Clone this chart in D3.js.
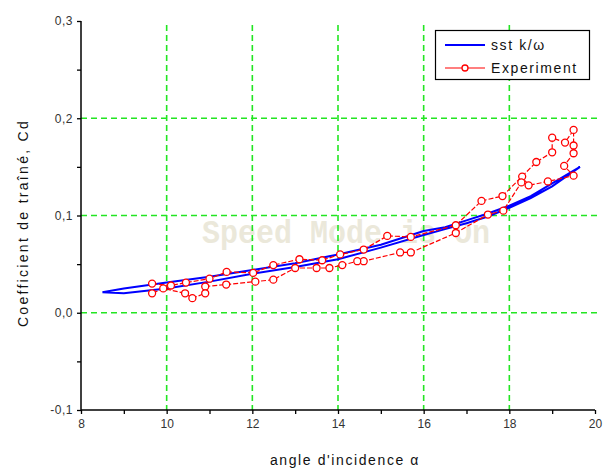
<!DOCTYPE html>
<html>
<head>
<meta charset="utf-8">
<script src="https://cdn.jsdelivr.net/npm/d3@7"></script>
<style>
html,body{margin:0;padding:0;background:#fff;}
svg{display:block;}
</style>
</head>
<body>
<svg id="chart" width="609" height="472"></svg>
<script>
// ---- data ----
const xTicks = [8, 10, 12, 14, 16, 18, 20];
const yTicks = [-0.1, 0.0, 0.1, 0.2, 0.3];
const yTickLabels = ["-0,1", "0,0", "0,1", "0,2", "0,3"];
const xGrid = [10, 12, 14, 16, 18];
const yGrid = [0.0, 0.1, 0.2];

// sst k/ω : loop (upper branch going up, lower branch coming back)
const sstAlpha = [8.5, 9.0, 10, 11, 12, 13, 14, 15, 16, 16.5, 17, 17.5, 18, 18.5, 19, 19.65,
                  19, 18.5, 18, 17.5, 17, 16.5, 16, 15, 14, 13, 12, 11, 10, 9.0, 8.5];
const sstCd    = [0.021, 0.025, 0.031, 0.037, 0.044, 0.051, 0.060, 0.070, 0.084, 0.088, 0.095, 0.102, 0.110, 0.120, 0.133, 0.150,
                  0.130, 0.118, 0.108, 0.099, 0.092, 0.086, 0.080, 0.067, 0.055, 0.047, 0.040, 0.032, 0.025, 0.020, 0.021];

// Experiment
const expAlpha = [9.66, 10.1, 10.45, 11.0, 11.4, 12.02, 12.49, 13.1, 13.63, 14.05, 14.6, 15.15, 15.7, 16.75, 17.35, 17.84, 18.63, 19.0, 19.0, 19.3, 19.5, 19.5, 19.5,
                  19.28, 19.5, 18.9, 18.45, 18.3, 18.28, 17.86, 17.5, 16.75, 15.7, 15.45, 14.6, 14.45, 14.1, 13.8, 13.5, 13.0, 12.49, 12.07, 11.39, 10.9, 10.9, 10.6, 10.43, 9.92, 9.66];
const expCd    = [0.030, 0.028, 0.031, 0.035, 0.042, 0.041, 0.049, 0.055, 0.054, 0.060, 0.065, 0.079, 0.078, 0.090, 0.115, 0.120, 0.155, 0.165, 0.180, 0.175, 0.188, 0.172, 0.164,
                  0.151, 0.141, 0.135, 0.131, 0.140, 0.134, 0.105, 0.101, 0.082, 0.062, 0.062, 0.053, 0.053, 0.049, 0.046, 0.046, 0.046, 0.034, 0.032, 0.029, 0.027, 0.020, 0.015, 0.020, 0.025, 0.020];

const legendLabels = ["sst k/\u03c9", "Experiment"];

// ---- drawing ----
const svg = d3.select("#chart");
const x = d3.scaleLinear().domain([8, 20]).range([81, 595]);
const y = d3.scaleLinear().domain([-0.1, 0.3]).range([410, 21]);
const green = "#22e622";
const font = "Liberation Sans, Arial, sans-serif";

// watermark
svg.append("text")
  .attr("x", 202).attr("y", 243)
  .attr("font-family", "Liberation Mono, monospace")
  .attr("font-weight", "bold")
  .attr("font-size", 33)
  .attr("textLength", 288).attr("lengthAdjust", "spacingAndGlyphs")
  .attr("fill", "#ebe8da")
  .text("Speed Mode is On");

// grid
svg.append("g").selectAll("line").data(xGrid).join("line")
  .attr("x1", d => x(d)).attr("x2", d => x(d))
  .attr("y1", 25).attr("y2", 410)
  .attr("stroke", green).attr("stroke-width", 1.6).attr("stroke-dasharray", "6,4");
svg.append("g").selectAll("line").data(yGrid).join("line")
  .attr("x1", 81).attr("x2", 601)
  .attr("y1", d => y(d)).attr("y2", d => y(d))
  .attr("stroke", green).attr("stroke-width", 1.6).attr("stroke-dasharray", "6,4");

// axes
const xAxis = d3.axisBottom(x).tickValues(d3.range(8, 20.01, 1)).tickSize(4)
  .tickFormat(d => xTicks.includes(d) ? d : "");
const gx = svg.append("g").attr("transform", "translate(0,410)").call(xAxis);
gx.select(".domain").attr("d", "M81,0H595").attr("stroke-width", 1.5);
gx.selectAll(".tick line").attr("stroke-width", 1.3);
gx.selectAll(".tick text").attr("font-family", font)
  .attr("font-size", 12).attr("fill", "#333").attr("dy", "0.95em");

const yAxis = d3.axisLeft(y).tickValues(d3.range(-0.1, 0.3001, 0.05).map(v => Math.round(v * 100) / 100)).tickSize(4)
  .tickFormat(d => { const i = yTicks.findIndex(t => Math.abs(t - d) < 1e-9); return i >= 0 ? yTickLabels[i] : ""; });
const gy = svg.append("g").attr("transform", "translate(81,0)").call(yAxis);
gy.select(".domain").attr("d", "M0,410V21").attr("stroke-width", 1.5);
gy.selectAll(".tick line").attr("stroke-width", 1.3);
gy.selectAll(".tick text").attr("font-family", font)
  .attr("font-size", 12).attr("fill", "#333").attr("x", -8).attr("letter-spacing", 0.5);

// axis titles
svg.append("text").attr("x", 345).attr("y", 465).attr("text-anchor", "middle")
  .attr("font-family", font).attr("font-size", 14).attr("fill", "#111").attr("letter-spacing", 1.6)
  .text("angle d'incidence \u03b1");
svg.append("text").attr("transform", "translate(28,223) rotate(-90)").attr("text-anchor", "middle")
  .attr("font-family", font).attr("font-size", 14).attr("fill", "#111").attr("letter-spacing", 2.3)
  .text("Coefficient de traîné, Cd");

// sst line
const sstData = sstAlpha.map((a, i) => [a, sstCd[i]]);
const line = d3.line().x(d => x(d[0])).y(d => y(d[1]));
svg.append("path").datum(sstData).attr("d", line)
  .attr("fill", "none").attr("stroke", "#0000ff").attr("stroke-width", 2);

// experiment
const expData = expAlpha.map((a, i) => [a, expCd[i]]);
svg.append("path").datum(expData).attr("d", line)
  .attr("fill", "none").attr("stroke", "#ff0000").attr("stroke-width", 1.2).attr("stroke-dasharray", "5,2");
svg.append("g").selectAll("circle").data(expData).join("circle")
  .attr("cx", d => x(d[0])).attr("cy", d => y(d[1])).attr("r", 3.5)
  .attr("fill", "#fff").attr("stroke", "#ff0000").attr("stroke-width", 1.3);

// legend
const lg = svg.append("g");
lg.append("rect").attr("x", 435.5).attr("y", 30.5).attr("width", 154).attr("height", 49)
  .attr("fill", "#fff").attr("stroke", "#000").attr("stroke-width", 1.2);
lg.append("line").attr("x1", 445).attr("x2", 485).attr("y1", 45).attr("y2", 45)
  .attr("stroke", "#0000ff").attr("stroke-width", 2);
lg.append("line").attr("x1", 445).attr("x2", 485).attr("y1", 68).attr("y2", 68)
  .attr("stroke", "#ff0000").attr("stroke-width", 1.2);
lg.append("circle").attr("cx", 465).attr("cy", 68).attr("r", 3)
  .attr("fill", "#fff").attr("stroke", "#ff0000").attr("stroke-width", 1.3);
lg.selectAll("text.lbl").data(legendLabels).join("text").attr("class", "lbl")
  .attr("x", 491).attr("y", (d, i) => 45 + i * 23).attr("dy", "0.35em")
  .attr("font-family", font).attr("font-size", 14).attr("fill", "#111").attr("letter-spacing", 1.6)
  .text(d => d);
</script>
</body>
</html>
